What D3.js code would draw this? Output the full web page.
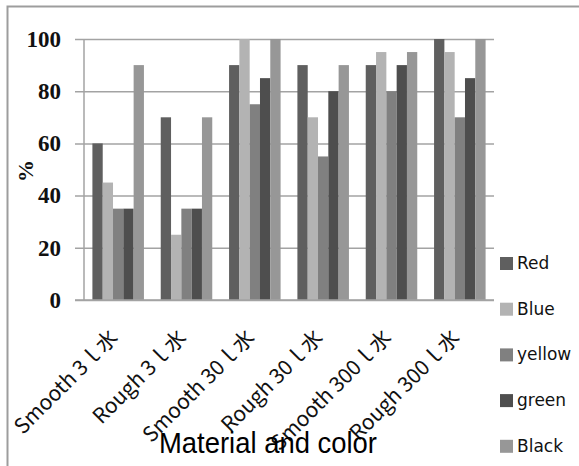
<!DOCTYPE html>
<html>
<head>
<meta charset="utf-8">
<script src="https://cdn.jsdelivr.net/npm/d3@7"></script>
<style>
  html, body { margin: 0; padding: 0; background: #fff; }
  svg { display: block; }
</style>
</head>
<body>
<svg id="chart" width="579" height="466"></svg>
<script>
// Categories (material / volume) and one value array per colour series
const categories = ["Smooth 3ｌ水", "Rough 3ｌ水", "Smooth 30ｌ水", "Rough 30ｌ水", "Smooth 300ｌ水", "Rough 300ｌ水"];
const seriesNames = ["Red", "Blue", "yellow", "green", "Black"];
const redValues    = [60, 70, 90, 90, 90, 100];
const blueValues   = [45, 25, 100, 70, 95, 95];
const yellowValues = [35, 35, 75, 55, 80, 70];
const greenValues  = [35, 35, 85, 80, 90, 85];
const blackValues  = [90, 70, 100, 90, 95, 100];
const yTicks = [0, 20, 40, 60, 80, 100];
const seriesColors = ["#5f5f5f", "#b3b3b3", "#808080", "#4e4e4e", "#979797"];

const seriesValues = [redValues, blueValues, yellowValues, greenValues, blackValues];
const table = categories.map((c, i) => ({
  category: c,
  values: seriesNames.map((s, j) => ({ series: s, value: seriesValues[j][i] }))
}));

const svg = d3.select("#chart");

// chart frame
svg.append("rect")
  .attr("x", 7.5).attr("y", 6.5)
  .attr("width", 600).attr("height", 500)
  .attr("fill", "none").attr("stroke", "#9d9d9d").attr("stroke-width", 2);

const plot = { left: 84, right: 494, top: 39, bottom: 300 };

const x = d3.scaleBand()
  .domain(categories)
  .range([plot.left, plot.right])
  .paddingInner(0.246)
  .paddingOuter(0.123);

const xs = d3.scaleBand()
  .domain(seriesNames)
  .range([0, x.bandwidth()]);

const y = d3.scaleLinear()
  .domain([0, 100])
  .range([plot.bottom, plot.top]);

// horizontal gridlines with ticks left of the axis
const yAxis = d3.axisLeft(y)
  .tickValues(yTicks)
  .tickSize(-(plot.right - plot.left + 9))
  .tickPadding(14)
  .tickFormat(d3.format("d"));

const yg = svg.append("g")
  .attr("transform", `translate(${plot.left - 9},0)`)
  .call(yAxis);
yg.select(".domain").remove();
yg.selectAll(".tick line")
  .attr("stroke", "#a3a3a3").attr("stroke-width", 1.5);
yg.selectAll(".tick text")
  .attr("fill", "#111")
  .style("font-family", "'Liberation Serif', 'Times New Roman', serif")
  .style("font-weight", "bold")
  .style("font-size", "23px");

// value axis line
svg.append("line")
  .attr("x1", plot.left).attr("x2", plot.left)
  .attr("y1", y(100)).attr("y2", y(0))
  .attr("stroke", "#a3a3a3").attr("stroke-width", 1.5);

// bars
const groups = svg.append("g").selectAll("g")
  .data(table)
  .join("g")
  .attr("transform", d => `translate(${x(d.category)},0)`);

groups.selectAll("rect")
  .data(d => d.values)
  .join("rect")
  .attr("x", d => xs(d.series))
  .attr("width", xs.bandwidth())
  .attr("y", d => y(d.value))
  .attr("height", d => y(0) - y(d.value))
  .attr("fill", (d, i) => seriesColors[i]);

// baseline redrawn over bars
svg.append("line")
  .attr("x1", plot.left - 9).attr("x2", plot.right)
  .attr("y1", y(0)).attr("y2", y(0))
  .attr("stroke", "#a3a3a3").attr("stroke-width", 1.5);

// rotated category labels
svg.append("g").selectAll("text")
  .data(categories)
  .join("text")
  .attr("transform", d => `translate(${x(d) + x.bandwidth() / 2 + 1},339) rotate(-45)`)
  .attr("text-anchor", "end")
  .attr("fill", "#111")
  .style("font-family", "'Noto Sans CJK JP', 'DejaVu Sans', sans-serif")
  .style("font-size", "21px")
  .text(d => d);

// value axis title
svg.append("text")
  .attr("transform", "translate(33,171) rotate(-90)")
  .attr("text-anchor", "middle")
  .attr("fill", "#111")
  .style("font-family", "'Liberation Serif', serif")
  .style("font-weight", "bold")
  .style("font-size", "22px")
  .text("%");

// category axis title
svg.append("text")
  .attr("x", 268).attr("y", 453)
  .attr("text-anchor", "middle")
  .attr("fill", "#000")
  .style("font-family", "'Liberation Sans', Arial, sans-serif")
  .style("font-size", "29px")
  .attr("textLength", 218)
  .attr("lengthAdjust", "spacingAndGlyphs")
  .text("Material and color");

// legend
const legend = svg.append("g").selectAll("g")
  .data(seriesNames)
  .join("g")
  .attr("transform", (d, i) => `translate(500,${263 + i * 45.7})`);
legend.append("rect")
  .attr("x", 0).attr("y", -6)
  .attr("width", 13).attr("height", 13)
  .attr("fill", (d, i) => seriesColors[i]);
legend.append("text")
  .attr("x", 17).attr("y", 6)
  .attr("fill", "#111")
  .style("font-family", "'DejaVu Sans', sans-serif")
  .style("font-size", "17px")
  .text(d => d);
</script>
</body>
</html>
